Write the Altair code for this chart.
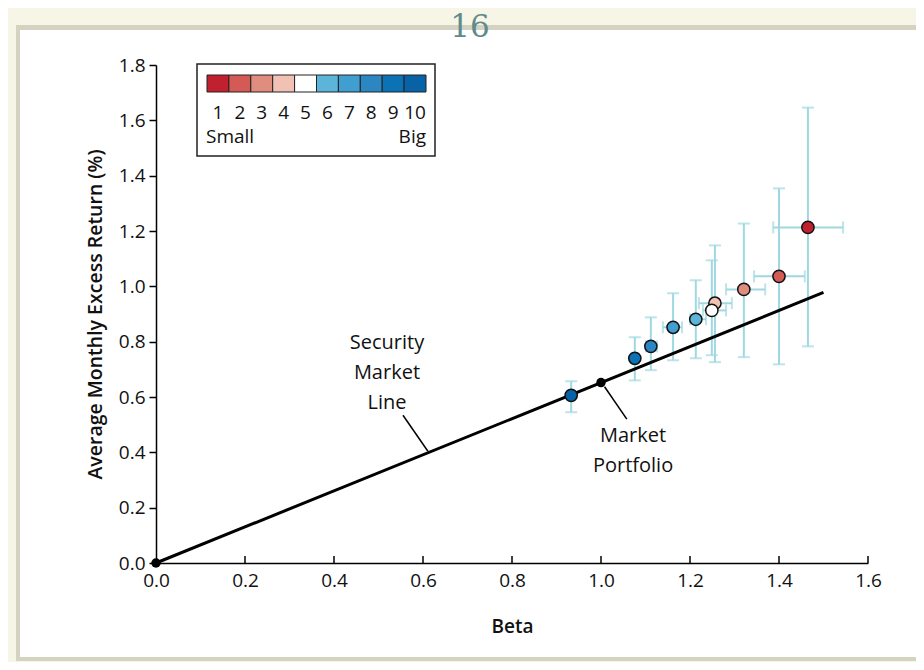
import altair as alt
import pandas as pd

# ---------------- data ----------------
portfolios = [1, 2, 3, 4, 5, 6, 7, 8, 9, 10]
betas = [1.465, 1.400, 1.321, 1.256, 1.249, 1.213, 1.162, 1.112, 1.076, 0.933]
returns = [1.213, 1.036, 0.989, 0.939, 0.913, 0.881, 0.852, 0.783, 0.740, 0.606]
ret_lo = [0.783, 0.718, 0.744, 0.726, 0.751, 0.740, 0.733, 0.697, 0.660, 0.545]
ret_hi = [1.646, 1.354, 1.227, 1.148, 1.094, 1.022, 0.975, 0.888, 0.816, 0.657]
beta_lo = [1.387, 1.344, 1.281, 1.220, 1.229, 1.200, 1.139, 1.101, 1.068, 0.925]
beta_hi = [1.544, 1.458, 1.369, 1.294, 1.281, 1.236, 1.182, 1.126, 1.084, 0.940]
colors = ["#c1202f", "#d35a55", "#e08c7f", "#f1c1b4", "#ffffff",
          "#5cb5d9", "#409ed0", "#2b86c1", "#0a72b5", "#0762a7"]

sml_beta = [0.0, 1.5]
sml_ret = [0.0, 0.978]
black_beta = [0.0, 1.0]
black_ret = [0.0, 0.652]

x_ticks = [0.0, 0.2, 0.4, 0.6, 0.8, 1.0, 1.2, 1.4, 1.6]
y_ticks = [0.0, 0.2, 0.4, 0.6, 0.8, 1.0, 1.2, 1.4, 1.6, 1.8]

annot_text = [["Security", "Market", "Line"], ["Market", "Portfolio"]]
annot_beta = [0.519, 1.072]
annot_ret = [0.795, 0.46]
leader_beta_from = [0.555, 1.008]
leader_ret_from = [0.534, 0.637]
leader_beta_to = [0.611, 1.058]
leader_ret_to = [0.404, 0.520]

FONT = "Open Sans"
EB_COLOR = "#9fd8e1"

# ---------------- tables ----------------
pf = pd.DataFrame({
    "portfolio": [str(p) for p in portfolios],
    "beta": betas, "ret": returns,
    "ret_lo": ret_lo, "ret_hi": ret_hi,
    "beta_lo": beta_lo, "beta_hi": beta_hi,
})
pf["slot"] = [p - 1 for p in portfolios]
pf["slot_end"] = [p for p in portfolios]
pf["slot_mid"] = [p - 0.5 for p in portfolios]

sml = pd.DataFrame({"beta": sml_beta, "ret": sml_ret})
blk = pd.DataFrame({"beta": black_beta, "ret": black_ret})
ann = pd.DataFrame({"beta": annot_beta, "ret": annot_ret, "txt": annot_text})
lead = pd.DataFrame({"b1": leader_beta_from, "r1": leader_ret_from,
                     "b2": leader_beta_to, "r2": leader_ret_to})
xt = pd.DataFrame({"beta": x_ticks[1:]})
one = pd.DataFrame({"a": [0]})

color_scale = alt.Scale(domain=[str(p) for p in portfolios], range=colors)
xs = alt.Scale(domain=[0, 1.6], nice=False)
ys = alt.Scale(domain=[0, 1.8], nice=False)

# ---------------- frame ----------------
frame_gray = alt.Chart(one).mark_rect(fill="#d4d2c1").encode(
    x=alt.value(-140), x2=alt.value(800), y=alt.value(-40), y2=alt.value(596))
frame_white = alt.Chart(one).mark_rect(fill="#ffffff").encode(
    x=alt.value(-136), x2=alt.value(800), y=alt.value(-35), y2=alt.value(592))
page_no = alt.Chart(pd.DataFrame({"t": ["16"]})).mark_text(
    font="DejaVu Serif", fontSize=31, color="#5f8b8c", baseline="alphabetic"
).encode(x=alt.value(314), y=alt.value(-28), text="t:N")

# ---------------- main plot ----------------
base = alt.Chart(pf)

v_err = base.mark_rule(color=EB_COLOR, strokeWidth=2).encode(
    x=alt.X("beta:Q", scale=xs, title="Beta",
            axis=alt.Axis(values=x_ticks, format=".1f", ticks=False, grid=False,
                          domainColor="#000", domainWidth=1.5, labelPadding=8,
                          labelFlush=False,
                          labelFont=FONT, labelFontSize=19, labelColor="#111",
                          titleFont=FONT, titleFontSize=19, titleFontWeight=600,
                          titleColor="#111", titlePadding=27, zindex=1)),
    y=alt.Y("ret_lo:Q", scale=ys, title="Average Monthly Excess Return (%)",
            axis=alt.Axis(values=y_ticks, format=".1f", grid=False, tickSize=7,
                          tickColor="#000", tickWidth=1.5, labelFlush=False,
                          domainColor="#000", domainWidth=1.5, labelPadding=4,
                          labelFont=FONT, labelFontSize=19, labelColor="#111",
                          titleFont=FONT, titleFontSize=19.5, titleFontWeight=600,
                          titleColor="#111", titlePadding=13, zindex=1)),
    y2="ret_hi:Q",
)
h_err = base.mark_rule(color=EB_COLOR, strokeWidth=2).encode(
    x=alt.X("beta_lo:Q", scale=xs), x2="beta_hi:Q", y=alt.Y("ret:Q", scale=ys))
cap_lo = base.mark_tick(color=EB_COLOR, thickness=2, size=12, orient="horizontal").encode(
    x=alt.X("beta:Q", scale=xs), y=alt.Y("ret_lo:Q", scale=ys))
cap_hi = base.mark_tick(color=EB_COLOR, thickness=2, size=12, orient="horizontal").encode(
    x=alt.X("beta:Q", scale=xs), y=alt.Y("ret_hi:Q", scale=ys))
cap_l = base.mark_tick(color=EB_COLOR, thickness=2, size=12, orient="vertical").encode(
    x=alt.X("beta_lo:Q", scale=xs), y=alt.Y("ret:Q", scale=ys))
cap_r = base.mark_tick(color=EB_COLOR, thickness=2, size=12, orient="vertical").encode(
    x=alt.X("beta_hi:Q", scale=xs), y=alt.Y("ret:Q", scale=ys))

sml_line = alt.Chart(sml).mark_line(color="#000", strokeWidth=3).encode(
    x=alt.X("beta:Q", scale=xs), y=alt.Y("ret:Q", scale=ys))
leaders = alt.Chart(lead).mark_rule(color="#000", strokeWidth=1.5).encode(
    x=alt.X("b1:Q", scale=xs), y=alt.Y("r1:Q", scale=ys), x2="b2:Q", y2="r2:Q")
pts = base.mark_point(filled=True, size=150, stroke="#111", strokeWidth=1.5, opacity=1).encode(
    x=alt.X("beta:Q", scale=xs), y=alt.Y("ret:Q", scale=ys),
    fill=alt.Fill("portfolio:N", scale=color_scale, legend=None))
blk_pts = alt.Chart(blk).mark_point(filled=True, size=90, color="#000", opacity=1).encode(
    x=alt.X("beta:Q", scale=xs), y=alt.Y("ret:Q", scale=ys))
ann_txt = alt.Chart(ann).mark_text(font=FONT, fontSize=20, color="#111",
                                   lineHeight=30, baseline="middle").encode(
    x=alt.X("beta:Q", scale=xs), y=alt.Y("ret:Q", scale=ys), text="txt")
x_inward = alt.Chart(xt).mark_rule(color="#000", strokeWidth=1.5).encode(
    x=alt.X("beta:Q", scale=xs), y=alt.value(498), y2=alt.value(491))

main = alt.layer(frame_gray, frame_white, page_no, v_err, h_err, cap_lo, cap_hi,
                 cap_l, cap_r, sml_line, leaders, pts, blk_pts, ann_txt, x_inward)

# ---------------- legend (built from the portfolio table) ----------------
ls = alt.Scale(domain=[0, 10], range=[51, 270])
leg_box = alt.Chart(one).mark_rect(fill="#fff", stroke="#222", strokeWidth=1.5).encode(
    x=alt.value(41), x2=alt.value(279), y=alt.value(-1), y2=alt.value(91))
swatch = base.mark_rect(stroke="#222", strokeWidth=1).encode(
    x=alt.X("slot:Q", scale=ls, axis=None), x2="slot_end:Q",
    y=alt.value(10), y2=alt.value(27),
    fill=alt.Fill("portfolio:N", scale=color_scale, legend=None))
nums = base.mark_text(font=FONT, fontSize=19, color="#111", baseline="middle").encode(
    x=alt.X("slot_mid:Q", scale=ls, axis=None), y=alt.value(48), text="portfolio:N")
small_t = alt.Chart(pd.DataFrame({"t": ["Small"]})).mark_text(
    font=FONT, fontSize=19, color="#111", align="left", baseline="middle").encode(
    x=alt.value(50), y=alt.value(72), text="t:N")
big_t = alt.Chart(pd.DataFrame({"t": ["Big"]})).mark_text(
    font=FONT, fontSize=19, color="#111", align="right", baseline="middle").encode(
    x=alt.value(270), y=alt.value(72), text="t:N")
legend = alt.layer(leg_box, swatch, nums, small_t, big_t)

chart = alt.layer(main, legend).resolve_scale(x="independent").properties(
    width=712, height=498,
    autosize=alt.AutoSizeParams(type="none"),
    padding={"left": 148, "top": 57, "right": 48, "bottom": 99},
    background="#f7f5e6",
).configure_view(stroke=None)

chart.save("out.html", embed_options={"renderer": "svg", "actions": False})
